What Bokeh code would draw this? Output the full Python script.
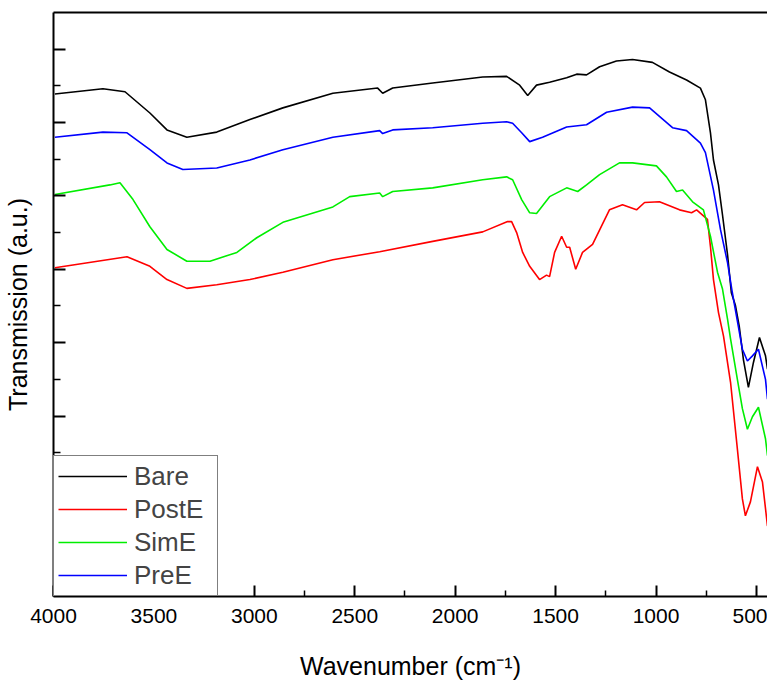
from bokeh.plotting import figure
from bokeh.models import Range1d, FixedTicker, LinearAxis, Legend, LegendItem, CustomJSTickFormatter
from bokeh.embed import file_html
from bokeh.resources import INLINE

# ---- data ----
bare_wn = [3993, 3754, 3644, 3520, 3435, 3336, 3187, 3022, 2858, 2609, 2386, 2361, 2311, 2112,
           1863, 1744, 1679, 1639, 1595, 1530, 1445, 1395, 1346, 1281, 1197, 1117, 1018, 933,
           848, 779, 754, 729, 714, 689, 669, 644, 625, 605, 585, 565, 540, 515, 485, 455, 445]
bare_t = [63.9, 64.6, 64.2, 61.3, 59.0, 58.0, 58.7, 60.4, 62.0, 64.0, 64.7, 64.0, 64.7, 65.4,
          66.2, 66.3, 65.1, 63.7, 65.1, 65.5, 66.1, 66.6, 66.5, 67.6, 68.4, 68.6, 68.2, 66.9,
          65.8, 64.7, 63.1, 58.6, 54.9, 51.5, 47.4, 42.0, 36.8, 35.1, 32.1, 27.7, 23.9, 27.3,
          30.7, 28.2, 26.4]

poste_wn = [3993, 3634, 3520, 3435, 3336, 3187, 3022, 2858, 2609, 2376, 2112, 1863, 1739, 1719,
            1694, 1664, 1629, 1580, 1545, 1530, 1505, 1470, 1445, 1430, 1400, 1366, 1316, 1232,
            1167, 1097, 1057, 983, 883, 823, 798, 744, 729, 714, 689, 664, 629, 595, 570, 555,
            530, 495, 470, 445]
poste_t = [40.2, 41.7, 40.4, 38.6, 37.4, 37.9, 38.6, 39.6, 41.3, 42.4, 43.8, 45.1, 46.5, 46.5,
           45.0, 42.3, 40.4, 38.6, 39.2, 39.0, 42.3, 44.5, 43.0, 43.0, 40.0, 42.3, 43.4, 48.1,
           48.8, 48.1, 49.1, 49.2, 48.1, 47.7, 48.1, 46.8, 43.1, 38.6, 34.1, 30.9, 24.6, 15.5,
           8.7, 6.4, 8.3, 13.1, 11.0, 5.0]

sime_wn = [3993, 3719, 3669, 3604, 3520, 3435, 3336, 3221, 3087, 2988, 2858, 2609, 2525, 2376,
           2361, 2311, 2112, 1863, 1744, 1714, 1669, 1629, 1595, 1530, 1445, 1390, 1346, 1281,
           1182, 1117, 998, 948, 898, 868, 818, 764, 729, 694, 669, 644, 629, 595, 570, 545,
           520, 490, 455, 445]
sime_t = [50.2, 51.5, 51.8, 49.5, 45.8, 42.7, 41.1, 41.1, 42.3, 44.3, 46.4, 48.5, 49.9, 50.4,
          49.9, 50.6, 51.1, 52.2, 52.6, 52.2, 49.5, 47.7, 47.6, 49.9, 51.1, 50.6, 51.5, 52.9,
          54.5, 54.5, 54.1, 52.6, 50.6, 50.8, 49.2, 48.1, 44.5, 39.6, 37.3, 33.2, 30.5, 25.0,
          21.0, 18.2, 19.9, 21.2, 16.9, 14.6]

pree_wn = [3993, 3754, 3634, 3520, 3435, 3356, 3187, 3022, 2858, 2609, 2376, 2361, 2311, 2112,
           1863, 1744, 1714, 1669, 1629, 1565, 1445, 1346, 1246, 1117, 1032, 918, 848, 779, 754,
           714, 679, 644, 620, 590, 570, 545, 520, 490, 455, 445]
pree_t = [58.0, 58.7, 58.6, 56.3, 54.5, 53.6, 53.8, 54.9, 56.3, 58.0, 58.9, 58.5, 59.0, 59.3,
          59.9, 60.1, 59.9, 58.6, 57.4, 58.0, 59.4, 59.7, 61.4, 62.1, 62.0, 59.3, 58.9, 57.2,
          55.9, 50.8, 45.4, 40.9, 36.8, 32.2, 29.1, 27.5, 28.2, 29.1, 25.0, 22.3]

x_major = [4000, 3500, 3000, 2500, 2000, 1500, 1000, 500]
x_minor = [3750, 3250, 2750, 2250, 1750, 1250, 750]
y_major = [0, 10, 20, 30, 40, 50, 60, 70]
y_minor = [5, 15, 25, 35, 45, 55, 65]

series = [("Bare", bare_wn, bare_t, "#000000"),
          ("PostE", poste_wn, poste_t, "#ff0000"),
          ("SimE", sime_wn, sime_t, "#00ee00"),
          ("PreE", pree_wn, pree_t, "#0000ff")]

FONT = "Liberation Sans"

p = figure(width=767, height=682, output_backend="svg", toolbar_location=None,
           x_range=Range1d(4000, 445), y_range=Range1d(-4.6, 75),
           min_border_left=53, min_border_right=0, min_border_top=12, min_border_bottom=84)
p.outline_line_color = None
p.background_fill_color = "white"
p.border_fill_color = "white"
p.xgrid.visible = False
p.ygrid.visible = False

items = []
for name, xs, ys, col in series:
    r = p.line(xs, ys, line_color=col, line_width=1.6)
    items.append(LegendItem(label=name, renderers=[r]))

# x axis
xa = p.xaxis[0]
xa.ticker = FixedTicker(ticks=x_major, minor_ticks=x_minor)
xa.axis_line_width = 2
xa.major_tick_in = 11
xa.major_tick_out = 0
xa.minor_tick_in = 6
xa.minor_tick_out = 0
xa.major_tick_line_width = 2
xa.minor_tick_line_width = 1.5
xa.major_label_text_font = FONT
xa.major_label_text_font_size = "21px"
xa.major_label_text_color = "black"
xa.major_label_standoff = 12
xa.axis_label = "Wavenumber (cm\u207b\u00b9)"
xa.axis_label_text_font = FONT
xa.axis_label_text_font_size = "25px"
xa.axis_label_text_font_style = "normal"
xa.axis_label_text_color = "black"
xa.axis_label_standoff = 26

# y axis (ticks, no numbers)
ya = p.yaxis[0]
ya.ticker = FixedTicker(ticks=y_major, minor_ticks=y_minor)
ya.formatter = CustomJSTickFormatter(code="return ''")
ya.axis_line_width = 2
ya.major_tick_in = 12
ya.major_tick_out = 0
ya.minor_tick_in = 7
ya.minor_tick_out = 0
ya.major_tick_line_width = 2
ya.minor_tick_line_width = 1.5
ya.major_label_standoff = 0
ya.axis_label = "Transmission (a.u.)"
ya.axis_label_text_font = FONT
ya.axis_label_text_font_size = "25px"
ya.axis_label_text_font_style = "normal"
ya.axis_label_text_color = "black"
ya.axis_label_standoff = 22

# top frame line
top = LinearAxis(ticker=FixedTicker(ticks=[]), axis_line_width=2,
                 major_tick_line_color=None, minor_tick_line_color=None,
                 formatter=CustomJSTickFormatter(code="return ''"), major_label_standoff=0,
                 major_tick_out=0, minor_tick_out=0)
p.add_layout(top, "above")

legend = Legend(items=items, location="bottom_left", margin=0, padding=4, spacing=1,
                glyph_height=32, glyph_width=69, label_height=32, label_width=79,
                label_standoff=7, label_text_font=FONT, label_text_font_size="26px",
                border_line_color="black", border_line_width=1,
                background_fill_color="white", background_fill_alpha=1.0)
p.add_layout(legend, "center")

open("out.html", "w").write(file_html(p, INLINE))
